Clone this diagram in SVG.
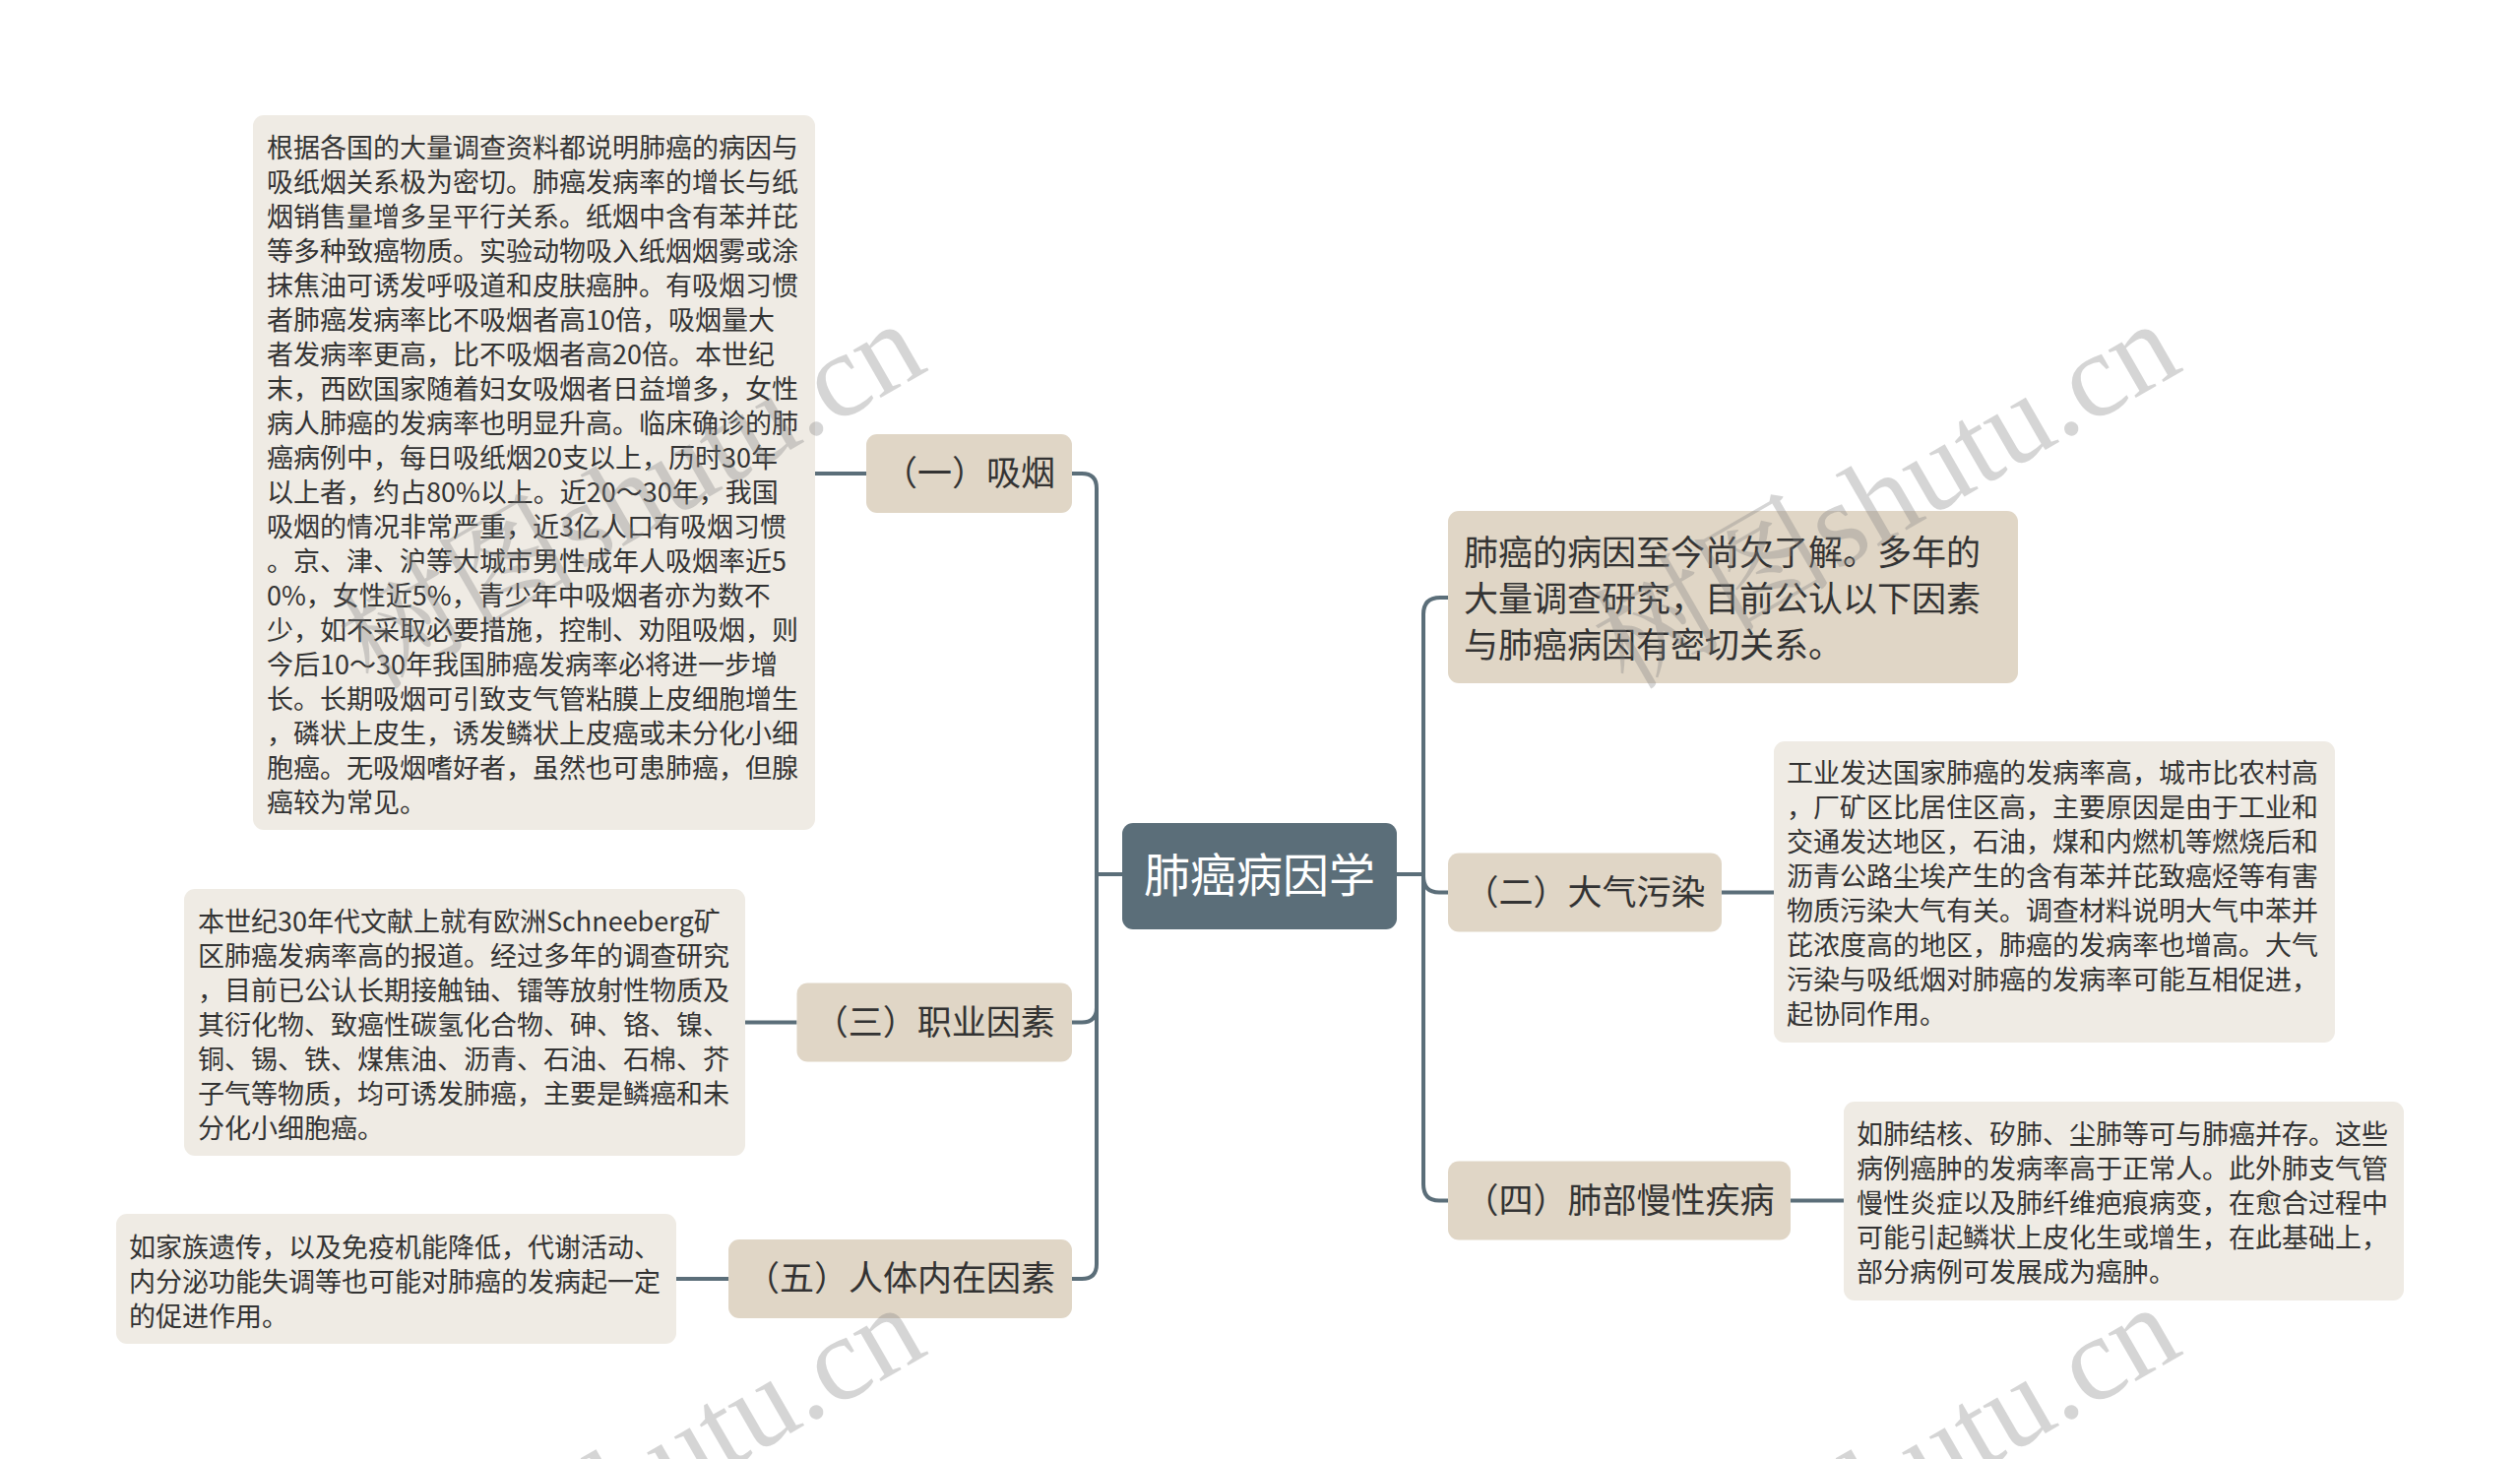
<svg xmlns="http://www.w3.org/2000/svg" width="2560" height="1482" viewBox="0 0 2560 1482">
<defs>
<style>
.bg{fill:#ffffff}
.root rect{fill:#5b6e79}
.root text{fill:#ffffff;font-family:"Noto Sans CJK SC","Noto Sans",sans-serif;font-size:47px;text-anchor:middle}
.main rect{fill:#e0d6c6}
.main text{fill:#333333;font-family:"Noto Sans CJK SC","Noto Sans",sans-serif;font-size:35px}
.main text.c{text-anchor:middle}
.detail rect{fill:#efebe4}
.detail text{fill:#333333;font-family:"Noto Sans CJK SC","Noto Sans",sans-serif;font-size:27px}
.conn path{fill:none;stroke:#5b6e79;stroke-width:4}
.wm text{fill:#7f7f7f;fill-opacity:0.33;font-family:"Liberation Serif","Noto Serif CJK SC","Noto Sans CJK SC",serif;font-size:122px;text-anchor:end}
</style>
</defs>
<rect class="bg" x="0" y="0" width="2560" height="1482"/>

<g id="connectors" class="conn">
<path d="M1140 888 H1114 V496 Q1114 481 1099 481 H1089"/>
<path d="M1140 888 H1114 V1023.5 Q1114 1038.5 1099 1038.5 H1089"/>
<path d="M1140 888 H1114 V1284 Q1114 1299 1099 1299 H1089"/>
<path d="M1419 888 H1446 V624 Q1446 607 1463 607 H1471"/>
<path d="M1419 888 H1446 V890 Q1446 906.5 1462 906.5 H1471"/>
<path d="M1419 888 H1446 V1203 Q1446 1219.5 1462 1219.5 H1471"/>
<path d="M880 481 H828"/>
<path d="M809.5 1038.5 H757"/>
<path d="M740 1299 H687"/>
<path d="M1749 906.5 H1802"/>
<path d="M1819 1219.5 H1873"/>
</g>

<g id="root" class="root">
<rect x="1140" y="836" width="279" height="108" rx="11"/>
<text x="1279.5" y="906">肺癌病因学</text>
</g>

<g id="n-intro" class="main">
<rect x="1471" y="519" width="579" height="175" rx="11"/>
<text x="1487" y="574">肺癌的病因至今尚欠了解。多年的</text>
<text x="1487" y="621">大量调查研究，目前公认以下因素</text>
<text x="1487" y="668">与肺癌病因有密切关系。</text>
</g>

<g id="n-smoking" class="main">
<rect x="880" y="441" width="209" height="80" rx="11"/>
<text class="c" x="984.5" y="493">（一）吸烟</text>
</g>

<g id="n-occupation" class="main">
<rect x="809.5" y="998.5" width="279.5" height="80" rx="11"/>
<text class="c" x="949.25" y="1050.5">（三）职业因素</text>
</g>

<g id="n-internal" class="main">
<rect x="740" y="1259" width="349" height="80" rx="11"/>
<text class="c" x="914.5" y="1311">（五）人体内在因素</text>
</g>

<g id="n-air" class="main">
<rect x="1471" y="866.5" width="278" height="80" rx="11"/>
<text class="c" x="1610" y="918.5">（二）大气污染</text>
</g>

<g id="n-lung" class="main">
<rect x="1471" y="1179.5" width="348" height="80" rx="11"/>
<text class="c" x="1645" y="1231.5">（四）肺部慢性疾病</text>
</g>

<g id="d-smoking" class="detail">
<rect x="257" y="117" width="571" height="726" rx="11"/>
<text x="271" y="160">根据各国的大量调查资料都说明肺癌的病因与</text>
<text x="271" y="195">吸纸烟关系极为密切。肺癌发病率的增长与纸</text>
<text x="271" y="230">烟销售量增多呈平行关系。纸烟中含有苯并芘</text>
<text x="271" y="265">等多种致癌物质。实验动物吸入纸烟烟雾或涂</text>
<text x="271" y="300">抹焦油可诱发呼吸道和皮肤癌肿。有吸烟习惯</text>
<text x="271" y="335">者肺癌发病率比不吸烟者高10倍，吸烟量大</text>
<text x="271" y="370">者发病率更高，比不吸烟者高20倍。本世纪</text>
<text x="271" y="405">末，西欧国家随着妇女吸烟者日益增多，女性</text>
<text x="271" y="440">病人肺癌的发病率也明显升高。临床确诊的肺</text>
<text x="271" y="475">癌病例中，每日吸纸烟20支以上，历时30年</text>
<text x="271" y="510">以上者，约占80%以上。近20～30年，我国</text>
<text x="271" y="545">吸烟的情况非常严重，近3亿人口有吸烟习惯</text>
<text x="271" y="580">。京、津、沪等大城市男性成年人吸烟率近5</text>
<text x="271" y="615">0%，女性近5%，青少年中吸烟者亦为数不</text>
<text x="271" y="650">少，如不采取必要措施，控制、劝阻吸烟，则</text>
<text x="271" y="685">今后10～30年我国肺癌发病率必将进一步增</text>
<text x="271" y="720">长。长期吸烟可引致支气管粘膜上皮细胞增生</text>
<text x="271" y="755">，磷状上皮生，诱发鳞状上皮癌或未分化小细</text>
<text x="271" y="790">胞癌。无吸烟嗜好者，虽然也可患肺癌，但腺</text>
<text x="271" y="825">癌较为常见。</text>
</g>

<g id="d-occupation" class="detail">
<rect x="187" y="903" width="570" height="271" rx="11"/>
<text x="201" y="946">本世纪30年代文献上就有欧洲Schneeberg矿</text>
<text x="201" y="981">区肺癌发病率高的报道。经过多年的调查研究</text>
<text x="201" y="1016">，目前已公认长期接触铀、镭等放射性物质及</text>
<text x="201" y="1051">其衍化物、致癌性碳氢化合物、砷、铬、镍、</text>
<text x="201" y="1086">铜、锡、铁、煤焦油、沥青、石油、石棉、芥</text>
<text x="201" y="1121">子气等物质，均可诱发肺癌，主要是鳞癌和未</text>
<text x="201" y="1156">分化小细胞癌。</text>
</g>

<g id="d-internal" class="detail">
<rect x="118" y="1233" width="569" height="132" rx="11"/>
<text x="131" y="1277">如家族遗传，以及免疫机能降低，代谢活动、</text>
<text x="131" y="1312">内分泌功能失调等也可能对肺癌的发病起一定</text>
<text x="131" y="1347">的促进作用。</text>
</g>

<g id="d-air" class="detail">
<rect x="1802" y="753" width="570" height="306" rx="11"/>
<text x="1815" y="795">工业发达国家肺癌的发病率高，城市比农村高</text>
<text x="1815" y="830">，厂矿区比居住区高，主要原因是由于工业和</text>
<text x="1815" y="865">交通发达地区，石油，煤和内燃机等燃烧后和</text>
<text x="1815" y="900">沥青公路尘埃产生的含有苯并芘致癌烃等有害</text>
<text x="1815" y="935">物质污染大气有关。调查材料说明大气中苯并</text>
<text x="1815" y="970">芘浓度高的地区，肺癌的发病率也增高。大气</text>
<text x="1815" y="1005">污染与吸纸烟对肺癌的发病率可能互相促进，</text>
<text x="1815" y="1040">起协同作用。</text>
</g>

<g id="d-lung" class="detail">
<rect x="1873" y="1119" width="569" height="202" rx="11"/>
<text x="1886" y="1162">如肺结核、矽肺、尘肺等可与肺癌并存。这些</text>
<text x="1886" y="1197">病例癌肿的发病率高于正常人。此外肺支气管</text>
<text x="1886" y="1232">慢性炎症以及肺纤维疤痕病变，在愈合过程中</text>
<text x="1886" y="1267">可能引起鳞状上皮化生或增生，在此基础上，</text>
<text x="1886" y="1302">部分病例可发展成为癌肿。</text>
</g>

<g id="watermarks" class="wm">
<text transform="translate(945 375) rotate(-30)">树图shutu.cn</text>
<text transform="translate(2220 375) rotate(-30)">树图shutu.cn</text>
<text transform="translate(945 1374) rotate(-30)">树图shutu.cn</text>
<text transform="translate(2220 1374) rotate(-30)">树图shutu.cn</text>
</g>
</svg>
